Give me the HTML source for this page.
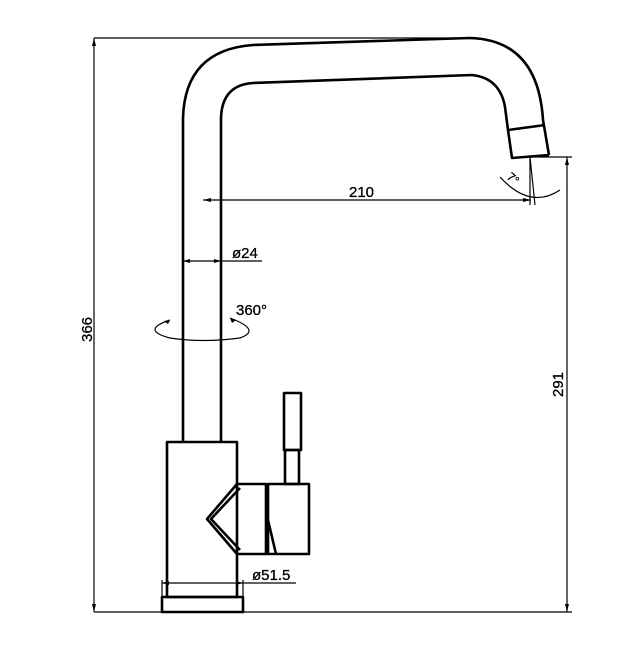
<!DOCTYPE html>
<html><head><style>html,body{margin:0;padding:0;background:#fff}svg{display:block}</style></head>
<body>
<svg width="642" height="653" viewBox="0 0 642 653" xmlns="http://www.w3.org/2000/svg" font-family="Liberation Sans, sans-serif">
<g fill="none" stroke="#000" stroke-width="1.2">
<line x1="94" y1="38" x2="470" y2="38"/>
<line x1="94" y1="38" x2="94" y2="612"/>
<line x1="94" y1="612" x2="572" y2="612"/>
<line x1="530" y1="157" x2="572" y2="157"/>
<line x1="567" y1="157" x2="567" y2="612"/>
<line x1="203" y1="200" x2="531" y2="200"/>
<line x1="530" y1="157" x2="530" y2="205"/>
<line x1="530" y1="157" x2="535" y2="205"/>
<path d="M500 177 Q530 210 560 190"/>
<line x1="183" y1="261" x2="262" y2="261"/>
<line x1="162" y1="583" x2="296" y2="583"/>
<line x1="162" y1="580" x2="162" y2="597"/>
<line x1="243" y1="580" x2="243" y2="597"/>
<path d="M170 320 Q140 330 170 338 Q202 343 240 338 Q262 330 230 318"/>
</g>
<g fill="#000">
<path d="M94 38 l-2 8 h4z"/><path d="M94 612 l-2 -8 h4z"/>
<path d="M567 157 l-2 8 h4z"/><path d="M567 612 l-2 -8 h4z"/>
<path d="M203 200 l8 -2 v4z"/><path d="M531 200 l-8 -2 v4z"/>
<path d="M183 261 l7 -2 v4z"/><path d="M221 261 l-7 -2 v4z"/>
<path d="M162 583 l7 -2 v4z"/><path d="M243 583 l-7 -2 v4z"/>
<path d="M170 320 l-6 1 l4 3z"/><path d="M230 318 l6 2 l-4 3z"/>
</g>
<g fill="none" stroke="#000" stroke-width="2.6" stroke-linejoin="round">
<path d="M183 442 V118 Q185 50 253 45 L470 38 Q538 40 543 120 L549 155"/>
<path d="M221 442 V118 Q222 85 253 83 L472 75 Q500 78 505 107 L508 130 L512 158 L549 155"/>
<line x1="508" y1="130" x2="545" y2="125"/>
<rect x="167" y="442" width="70" height="155"/>
<rect x="162" y="597" width="81" height="15"/>
<path d="M237 484 H266 V554 H237 L207 519 Z"/>
<path d="M240 488 L211 519 L240 550"/>
<rect x="268" y="484" width="41" height="70"/>
<path d="M268 520 L276 554"/>
<rect x="284" y="393" width="17" height="57"/>
<rect x="285" y="450" width="14" height="34"/>
</g>
<g font-size="15" fill="#000" stroke="#000" stroke-width="0.3">
<text x="349" y="197">210</text>
<text x="232" y="258">ø24</text>
<text x="236" y="315">360°</text>
<text x="252" y="580">ø51.5</text>
<text transform="translate(92,342) rotate(-90)">366</text>
<text transform="translate(563,397) rotate(-90)">291</text>
<text transform="translate(506,178) rotate(40)" font-size="12">7°</text>
</g>
</svg>
</body></html>
